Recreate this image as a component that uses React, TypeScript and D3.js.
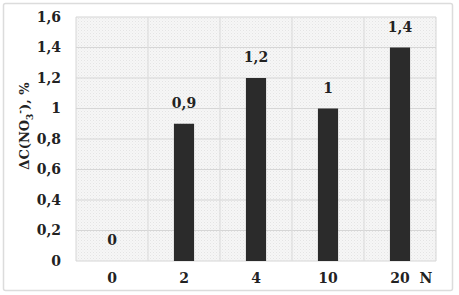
import React from 'react';
import { scaleBand, scaleLinear } from 'd3';

const categories = ['0', '2', '4', '10', '20'];
const values = [0, 0.9, 1.2, 1, 1.4];
const valueLabels = ['0', '0,9', '1,2', '1', '1,4'];
const yTicks = [0, 0.2, 0.4, 0.6, 0.8, 1, 1.2, 1.4, 1.6];
const yTickLabels = ['0', '0,2', '0,4', '0,6', '0,8', '1', '1,2', '1,4', '1,6'];

const W = 459;
const H = 295;
const m = { left: 76, right: 23, top: 17, bottom: 34 };
const txt: React.CSSProperties = {
  fontFamily: "'DejaVu Serif', serif",
  fontWeight: 'bold',
  fontSize: '14px',
  fill: '#222',
};

const App: React.FC = () => {
  const x = scaleBand<string>()
    .domain(categories)
    .range([m.left, W - m.right])
    .paddingInner(0.72)
    .paddingOuter(0.36);
  const y = scaleLinear().domain([0, 1.6]).range([H - m.bottom, m.top]);
  const step = x.step();
  const x0 = m.left;
  const x1 = W - m.right;

  return (
    <svg
      width={W}
      height={H}
      style={{ position: 'absolute', left: 0, top: 0, background: '#fff' }}
    >
      <defs>
        <pattern id="dots" width="3" height="3" patternUnits="userSpaceOnUse">
          <rect width="3" height="3" fill="#f6f6f6" />
          <rect width="1" height="1" fill="#e4e4e4" />
          <rect x="1.5" y="1.5" width="1" height="1" fill="#ebebeb" />
        </pattern>
      </defs>
      <rect x={3.5} y={3.5} width={449} height={287} fill="#fff" stroke="#dcdcdc" strokeWidth={1.5} rx={2} />
      <rect x={x0} y={m.top} width={x1 - x0} height={y(0) - m.top} fill="url(#dots)" />
      {yTicks.map((t) => (
        <line key={'h' + t} x1={x0} x2={x1} y1={y(t)} y2={y(t)} stroke="#d6d6d6" strokeWidth={1.2} />
      ))}
      {categories.slice(1).map((c, i) => (
        <line key={'v' + c} x1={x0 + step * (i + 1)} x2={x0 + step * (i + 1)} y1={m.top} y2={y(0)} stroke="#dedede" strokeWidth={1.2} />
      ))}
      <line x1={x0} x2={x0} y1={m.top} y2={y(0)} stroke="#d6d6d6" />
      <line x1={x1} x2={x1} y1={m.top} y2={y(0)} stroke="#d6d6d6" />
      {categories.map((c, i) => (
        <rect key={'b' + c} x={x(c)} y={y(values[i])} width={x.bandwidth()} height={y(0) - y(values[i])} fill="#2b2b2b" />
      ))}
      {categories.map((c, i) => (
        <text key={'l' + c} x={(x(c) as number) + x.bandwidth() / 2} y={y(values[i]) - 16} textAnchor="middle" style={txt}>
          {valueLabels[i]}
        </text>
      ))}
      {yTicks.map((t, i) => (
        <text key={'yt' + t} x={61} y={y(t)} dy="0.35em" textAnchor="end" style={txt}>
          {yTickLabels[i]}
        </text>
      ))}
      {categories.map((c) => (
        <text key={'xt' + c} x={(x(c) as number) + x.bandwidth() / 2} y={283} textAnchor="middle" style={txt}>
          {c}
        </text>
      ))}
      <text x={426} y={283} textAnchor="middle" style={txt}>N</text>
      <text transform="translate(29,126) rotate(-90)" textAnchor="middle" style={{ ...txt, fontSize: '13px' }}>
        ΔC(NO<tspan dy="4" style={{ fontSize: '9px' }}>3</tspan>
        <tspan dy="-10" style={{ fontSize: '9px' }}>-</tspan>
        <tspan dy="6">), %</tspan>
      </text>
    </svg>
  );
};

export default App;
